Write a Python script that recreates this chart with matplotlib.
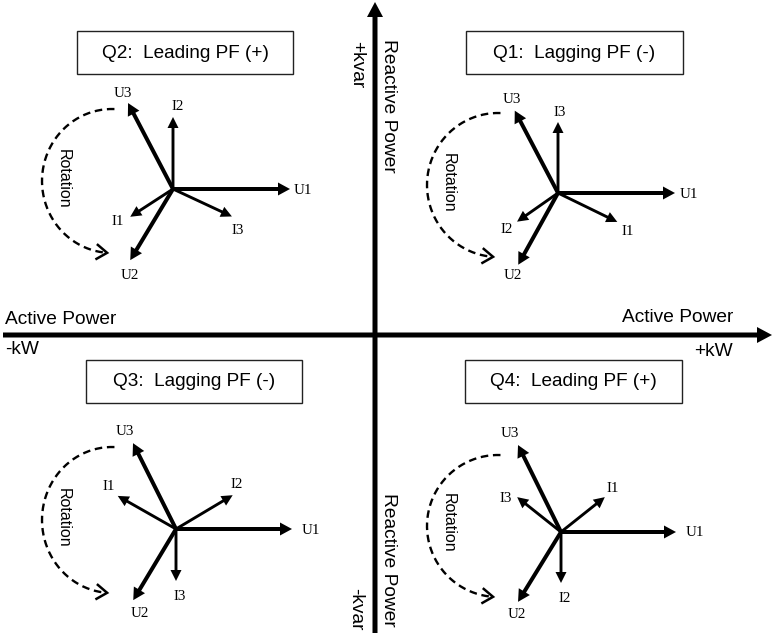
import numpy as np
import matplotlib
matplotlib.use("Agg")
import matplotlib.pyplot as plt
from matplotlib.patches import Rectangle

# ---------------- data ----------------
quad_titles = ["Q1:  Lagging PF (-)", "Q2:  Leading PF (+)",
               "Q3:  Lagging PF (-)", "Q4:  Leading PF (+)"]
phasor_names = ["U1", "U2", "U3", "I1", "I2", "I3"]
# angles in degrees (counter-clockwise from +kW), lengths in px
q1_angles = [0, 241, 117.7, 334, 215, 90]
q1_lengths = [117, 82, 93, 66, 50, 71]
q2_angles = [0, 239, 117.6, 213, 90, 335]
q2_lengths = [117, 83, 97, 51, 72, 65]
q3_angles = [0, 239, 116.6, 150.4, 30.8, 270]
q3_lengths = [116, 83, 96, 67, 66, 52]
q4_angles = [0, 238.4, 116.3, 38.5, 270, 141.5]
q4_lengths = [115, 82, 97, 56, 51, 56]
axis_left_label = "Active Power"
axis_right_label = "Active Power"
axis_neg_x = "-kW"
axis_pos_x = "+kW"
axis_pos_y = "+kvar"
axis_neg_y = "-kvar"
axis_y_label = "Reactive Power"
rotation_label = "Rotation"

# ---------------- layout ----------------
W, H = 775, 633
fig = plt.figure(figsize=(W / 100, H / 100), dpi=100)
ax = fig.add_axes([0, 0, 1, 1])
ax.set_xlim(0, W)
ax.set_ylim(H, 0)
ax.axis("off")

SANS = "Liberation Sans"
SERIF = "Liberation Serif"

# main axes
ax.arrow(3, 335, 769, 0, width=5, head_width=16, head_length=15,
         length_includes_head=True, fc="black", ec="none")
ax.arrow(375, 633, 0, -631, width=5, head_width=16, head_length=15,
         length_includes_head=True, fc="black", ec="none")

ax.text(5, 320, axis_left_label, family=SANS, fontsize=13.8, ha="left", va="center")
ax.text(5, 350, axis_neg_x, family=SANS, fontsize=13.8, ha="left", va="center")
ax.text(733, 318, axis_right_label, family=SANS, fontsize=13.8, ha="right", va="center")
ax.text(733, 351, axis_pos_x, family=SANS, fontsize=13.8, ha="right", va="center")
ax.text(357, 65, axis_pos_y, family=SANS, fontsize=13.8, ha="center", va="center", rotation=270)
ax.text(389, 106, axis_y_label, family=SANS, fontsize=13.8, ha="center", va="center", rotation=270)
ax.text(389, 560, axis_y_label, family=SANS, fontsize=13.8, ha="center", va="center", rotation=270)
ax.text(356, 609, axis_neg_y, family=SANS, fontsize=13.8, ha="center", va="center", rotation=270)

quads = [
    dict(title=quad_titles[0], box=(466, 31, 217, 43), center=(558, 193),
         angles=q1_angles, lengths=q1_lengths,
         offs={"U1": (14, 1), "U2": (-5, 11), "U3": (-3, -11),
               "I1": (10, 10), "I2": (-10, 8), "I3": (2, -9)},
         arc=(498, 185, 71, 72), rot=(448, 183)),
    dict(title=quad_titles[1], box=(77, 31, 216, 43), center=(173, 189),
         angles=q2_angles, lengths=q2_lengths,
         offs={"U1": (13, 1), "U2": (0, 15), "U3": (-5, -10),
               "I1": (-12, 5), "I2": (5, -10), "I3": (6, 14)},
         arc=(112, 181, 70, 72), rot=(63, 179)),
    dict(title=quad_titles[2], box=(86, 360, 216, 43), center=(176, 529),
         angles=q3_angles, lengths=q3_lengths,
         offs={"U1": (19, 2), "U2": (7, 13), "U3": (-8, -12),
               "I1": (-9, -9), "I2": (4, -11), "I3": (4, 16)},
         arc=(112, 520, 70, 73), rot=(63, 518)),
    dict(title=quad_titles[3], box=(465, 360, 217, 43), center=(561, 532),
         angles=q4_angles, lengths=q4_lengths,
         offs={"U1": (19, 1), "U2": (-1, 13), "U3": (-8, -12),
               "I1": (8, -9), "I2": (4, 15), "I3": (-11, 1)},
         arc=(498, 526, 71, 71), rot=(448, 523)),
]

for q in quads:
    bx, by, bw, bh = q["box"]
    ax.add_patch(Rectangle((bx, by), bw, bh, fill=False, ec="#222222", lw=1.0))
    ax.text(bx + bw / 2, by + bh / 2 + 0.5, q["title"], family=SANS, fontsize=13.7,
            ha="center", va="center")
    cx, cy = q["center"]
    for name, ang, ln in zip(phasor_names, q["angles"], q["lengths"]):
        a = np.deg2rad(ang)
        dx, dy = ln * np.cos(a), -ln * np.sin(a)
        if name.startswith("U"):
            ax.arrow(cx, cy, dx, dy, width=4.0, head_width=13, head_length=12,
                     length_includes_head=True, fc="black", ec="none")
        else:
            ax.arrow(cx, cy, dx, dy, width=2.9, head_width=11, head_length=11,
                     length_includes_head=True, fc="black", ec="none")
        ox, oy = q["offs"][name]
        ax.text(cx + dx + ox, cy + dy + oy, name, family=SERIF, fontsize=10.8,
                ha="center", va="center")
    # rotation arc
    ex, ey, rx, ry = q["arc"]
    t = np.deg2rad(np.linspace(88, 266, 200))
    xs = ex + rx * np.cos(t)
    ys = ey - ry * np.sin(t)
    ax.plot(xs, ys, color="black", lw=1.7, ls=(0, (3.2, 2.0)))
    # open arrowhead at end
    tx, ty = xs[-1] - xs[-4], ys[-1] - ys[-4]
    nrm = np.hypot(tx, ty)
    tx, ty = tx / nrm, ty / nrm
    px, py = -ty, tx
    hl, hw = 10, 7
    ax.plot([xs[-1] - hl * tx + hw * px, xs[-1], xs[-1] - hl * tx - hw * px],
            [ys[-1] - hl * ty + hw * py, ys[-1], ys[-1] - hl * ty - hw * py],
            color="black", lw=1.8, solid_joinstyle="miter")
    rx_, ry_ = q["rot"]
    ax.text(rx_, ry_, rotation_label, family=SANS, fontsize=11.5, ha="center",
            va="center", rotation=270)

fig.savefig("out.png", dpi=100)
